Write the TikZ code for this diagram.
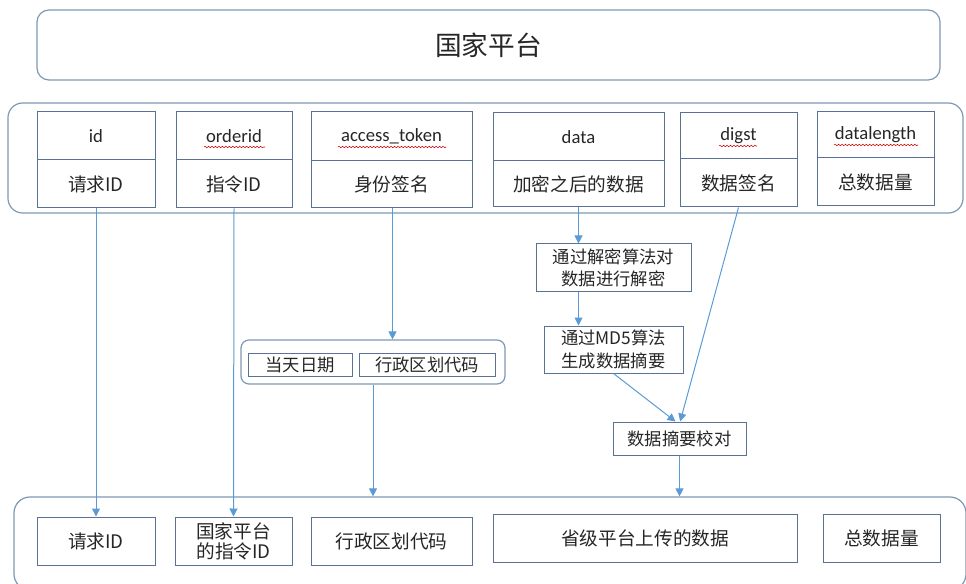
\documentclass[tikz,border=0pt]{standalone}
\usepackage{fontspec}
\setmainfont{Carlito}
\newfontfamily\cjk{Noto Sans CJK SC}
\usetikzlibrary{arrows.meta,fit,decorations.pathmorphing}
\definecolor{boxline}{HTML}{5A7394}
\definecolor{contline}{HTML}{7C98B4}
\definecolor{arrowc}{HTML}{5B9BD5}
\definecolor{txt}{HTML}{262626}
\begin{document}
\begin{tikzpicture}[x=0.75pt,y=-0.75pt,
  cont/.style={draw=contline,line width=0.9pt,rounded corners=11pt,inner sep=0pt},
  box/.style={draw=boxline,line width=0.75pt,inner sep=0pt},
  lab/.style={text=txt,inner sep=0pt,font=\fontsize{14}{16}\selectfont\cjk,align=center},
  llab/.style={lab,font=\fontsize{14}{16}\selectfont},
  slab/.style={lab,font=\fontsize{13}{17}\selectfont\cjk},
  arr/.style={draw=arrowc,line width=0.75pt,-{Triangle[width=6pt,length=6pt]}},
  wavy/.style={draw=red!80!black,line width=0.4pt,decorate,decoration={snake,amplitude=0.55pt,segment length=2.6pt}}]
\useasboundingbox (0,0) rectangle (966,584);
% top platform
\node[cont,rounded corners=9pt,fit={(37,10) (940,80)},label={[lab,font=\fontsize{20}{22}\selectfont\cjk]center:国家平台}] (nat) {};
% middle container
\node[cont,fit={(8,103) (963,213)}] (mid) {};
% records
\node[box,fit={(37,112) (155,160)},label={[llab]center:id}] (idT) {};
\node[box,fit={(37,160) (155,208)},label={[lab]center:请求ID}] (idB) {};
\node[box,fit={(176,112) (292,160)},label={[llab]center:orderid}] (ordT) {};
\node[box,fit={(176,160) (292,208)},label={[lab]center:指令ID}] (ordB) {};
\node[box,fit={(311,112) (472,161)},label={[llab]center:access\_token}] (tokT) {};
\node[box,fit={(311,161) (472,208)},label={[lab]center:身份签名}] (tokB) {};
\node[box,fit={(493,113) (664,161)},label={[llab]center:data}] (dataT) {};
\node[box,fit={(493,161) (664,207)},label={[lab]center:加密之后的数据}] (dataB) {};
\node[box,fit={(680,113) (797,159)},label={[llab]center:digst}] (digT) {};
\node[box,fit={(680,159) (797,207)},label={[lab]center:数据签名}] (digB) {};
\node[box,fit={(817,112) (934,158)},label={[llab]center:datalength}] (lenT) {};
\node[box,fit={(817,158) (934,206)},label={[lab]center:总数据量}] (lenB) {};
% spell-check underlines
\coordinate (w1a) at (204,147); \coordinate (w1b) at (265,147);
\coordinate (w2a) at (338,147); \coordinate (w2b) at (446,147);
\coordinate (w3a) at (719,146); \coordinate (w3b) at (757,146);
\coordinate (w4a) at (834,145); \coordinate (w4b) at (918,145);
\draw[wavy] (w1a) -- (w1b);
\draw[wavy] (w2a) -- (w2b);
\draw[wavy] (w3a) -- (w3b);
\draw[wavy] (w4a) -- (w4b);
% group box
\node[cont,rounded corners=6pt,fit={(241,340) (505,384)}] (grp) {};
\node[box,fit={(248,353) (352,376)},label={[slab]center:当天日期}] (day) {};
\node[box,fit={(359,353) (495,376)},label={[slab]center:行政区划代码}] (area) {};
% process boxes
\node[box,fit={(536,244) (691,292)},label={[slab]center:通过解密算法对\\数据进行解密}] (dec) {};
\node[box,fit={(544,326) (683,373)},label={[slab]center:通过MD5算法\\生成数据摘要}] (md5) {};
\node[box,fit={(613,422) (746,455)},label={[slab]center:数据摘要校对}] (chk) {};
% bottom container
\node[cont,rounded corners=12pt,fit={(14,497) (966,590)}] (bot) {};
\node[box,fit={(37,517) (155,565)},label={[lab]center:请求ID}] (b1) {};
\node[box,fit={(175,517) (292,565)},label={[lab,font=\fontsize{14}{15}\selectfont\cjk]center:国家平台\\的指令ID}] (b2) {};
\node[box,fit={(311,517) (472,565)},label={[lab]center:行政区划代码}] (b3) {};
\node[box,fit={(493,514) (797,562)},label={[lab]center:省级平台上传的数据}] (b4) {};
\node[box,fit={(823,514) (940,562)},label={[lab]center:总数据量}] (b5) {};
% arrows
\draw[arr] (idB.south) -- (b1.north);
\draw[arr] (ordB.south) -- (b2.north);
\draw[arr] ([xshift=0.75pt]tokB.south) -- ([xshift=0.75pt]tokB.south |- grp.north);
\draw[arr] (grp.south) -- (grp.south |- bot.north);
\draw[arr] (dataB.south) -- (dataB.south |- dec.north);
\draw[arr] (dataB.south |- dec.south) -- (dataB.south |- md5.north);
\draw[arr] (md5.south) -- ([xshift=-3pt]chk.north);
\draw[arr] (digB.south) -- ([xshift=0.5pt]chk.north);
\draw[arr] (chk.south) -- (chk.south |- bot.north);
\end{tikzpicture}
\end{document}
